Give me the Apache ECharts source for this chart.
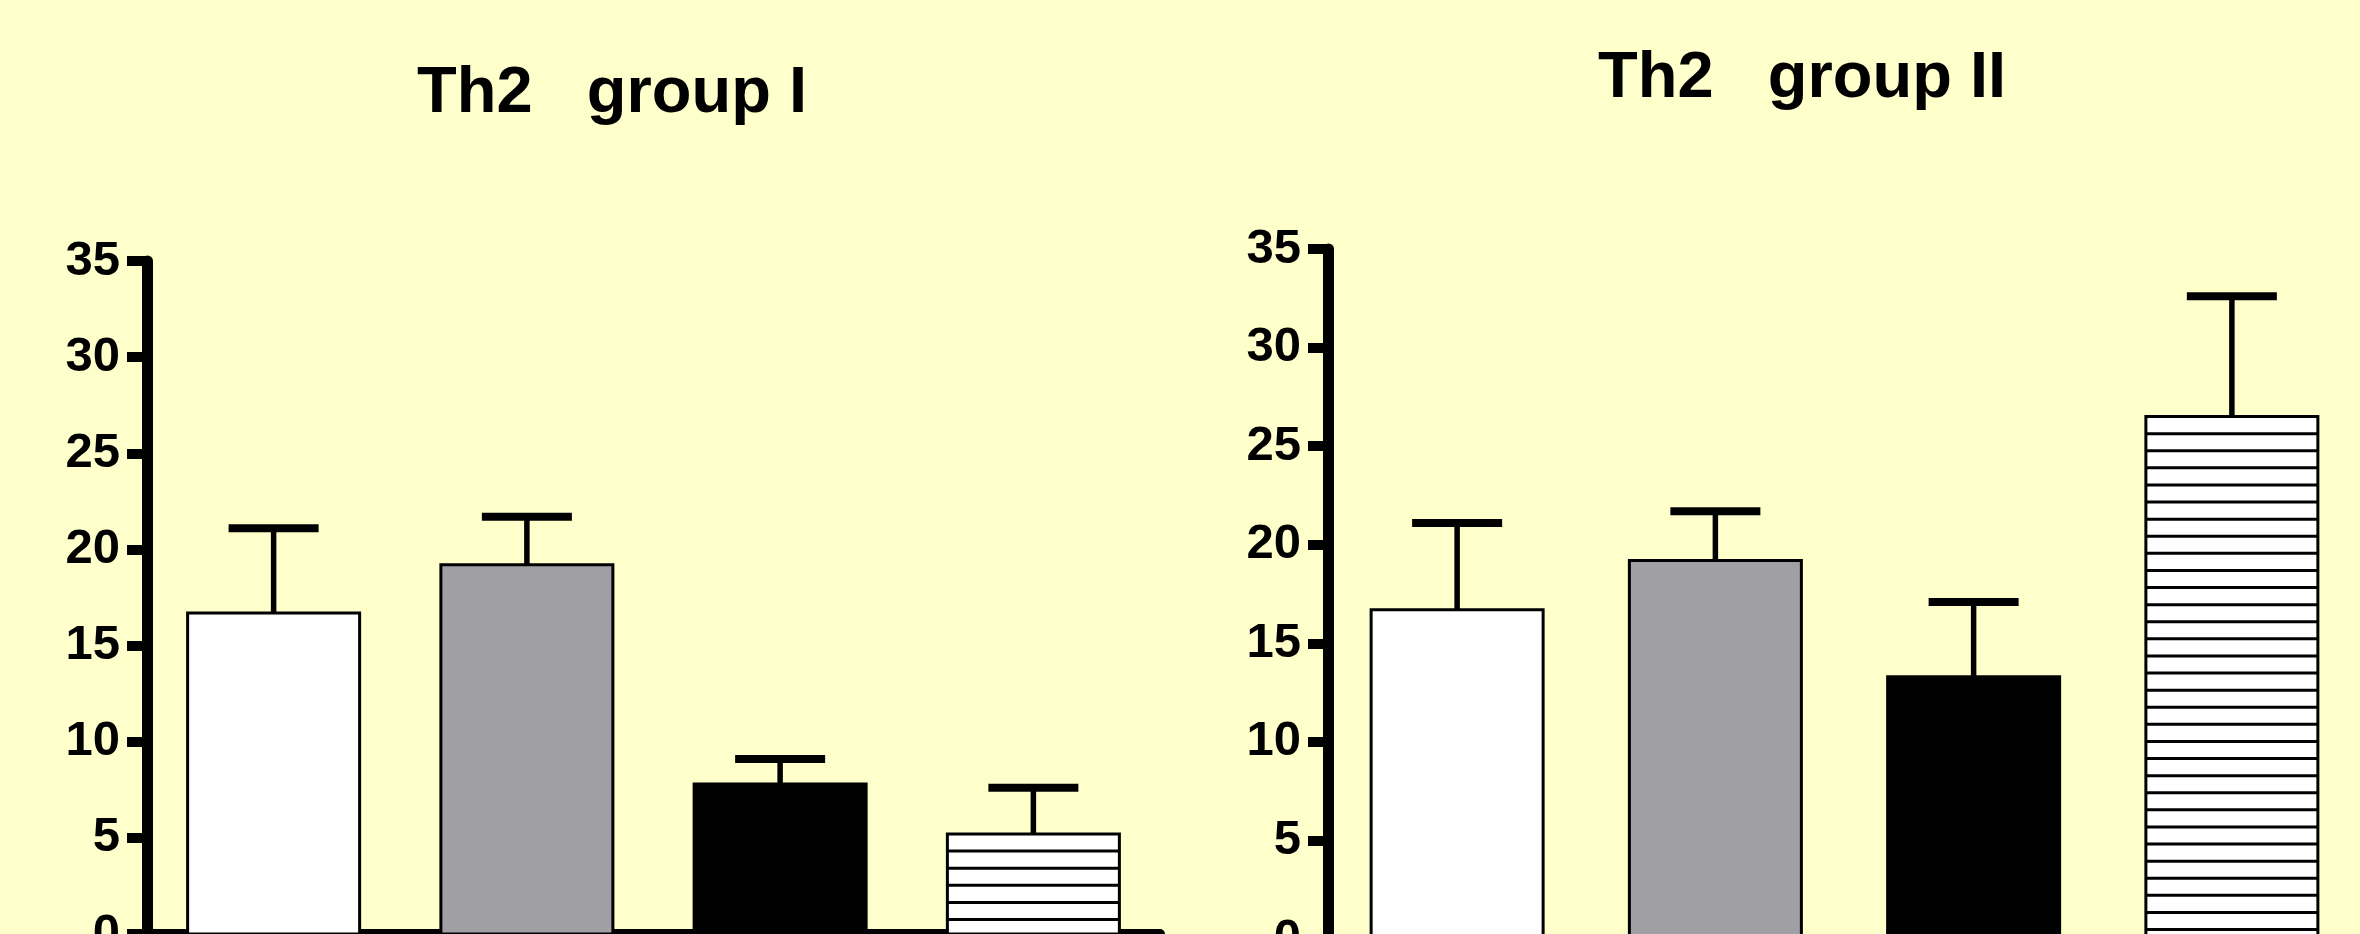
<!DOCTYPE html>
<html>
<head>
<meta charset="utf-8">
<script src="https://cdn.jsdelivr.net/npm/echarts@6/dist/echarts.min.js"></script>
<style>
  html, body { margin: 0; padding: 0; background: #FFFFCC; }
  #chart { width: 2360px; height: 934px; }
</style>
</head>
<body>
<div id="chart"></div>
<script>
// Four treatment bars per panel (unlabelled on the axis)
const categories = ['1', '2', '3', '4'];

// Th2 group I: mean and upper error (SEM)
const groupIMean = [16.7, 19.2, 7.8, 5.2];
const groupIErr  = [4.4, 2.5, 1.3, 2.4];

// Th2 group II: mean and upper error (SEM)
const groupIIMean = [16.7, 19.2, 13.3, 26.5];
const groupIIErr  = [4.4, 2.5, 3.8, 6.1];

// Y axis scale
const yMin = 0, yMax = 35, yStep = 5;

const titles = ['Th2   group I', 'Th2   group II'];

// ---- drawing ----
const FILLS = ['#FFFFFF', '#A09FA4', '#000000', 'stripe'];
const BAR_W = 172;
const CAP_W = 90;
const STRIPE_GAP = 17.1;
const FONT = '"Liberation Sans", Arial, Helvetica, sans-serif';

function renderBar(params, api) {
  const i = api.value(0);
  const top = api.coord([i, api.value(1)]);
  const base = api.coord([i, 0]);
  const x = top[0] - BAR_W / 2;
  const h = base[1] - top[1];
  const fill = FILLS[i];
  const children = [{
    type: 'rect',
    shape: { x: x, y: top[1], width: BAR_W, height: h },
    style: { fill: fill === 'stripe' ? '#FFFFFF' : fill, stroke: '#000', lineWidth: 3 }
  }];
  if (fill === 'stripe') {
    for (let y = top[1] + STRIPE_GAP; y < base[1] - 1; y += STRIPE_GAP) {
      children.push({
        type: 'line',
        shape: { x1: x, y1: y, x2: x + BAR_W, y2: y },
        style: { stroke: '#000', lineWidth: 3 }
      });
    }
  }
  return { type: 'group', children: children };
}

function renderErr(params, api) {
  const i = api.value(0);
  const lo = api.coord([i, api.value(1)]);
  const hi = api.coord([i, api.value(2)]);
  return {
    type: 'group',
    children: [
      { type: 'line', shape: { x1: lo[0], y1: lo[1], x2: hi[0], y2: hi[1] },
        style: { stroke: '#000', lineWidth: 5.5 } },
      { type: 'line', shape: { x1: hi[0] - CAP_W / 2, y1: hi[1], x2: hi[0] + CAP_W / 2, y2: hi[1] },
        style: { stroke: '#000', lineWidth: 8 } }
    ]
  };
}

function barData(mean) {
  return mean.map((v, i) => [i, v]);
}
function errData(mean, err) {
  return mean.map((v, i) => [i, v, +(v + err[i]).toFixed(2)]);
}

function xAxisFor(gridIndex) {
  return {
    type: 'category', gridIndex: gridIndex, data: categories,
    axisLine: { show: true, lineStyle: { color: '#000', width: 10 } },
    axisTick: { show: false }, axisLabel: { show: false }, splitLine: { show: false }
  };
}
function yAxisFor(gridIndex) {
  return {
    type: 'value', gridIndex: gridIndex, min: yMin, max: yMax, interval: yStep,
    axisLine: { show: true, lineStyle: { color: '#000', width: 11 } },
    axisTick: { show: true, length: 20, lineStyle: { color: '#000', width: 10 } },
    axisLabel: { color: '#000', fontSize: 49, fontWeight: 'bold', fontFamily: FONT, margin: 27 },
    splitLine: { show: false }
  };
}

const chart = echarts.init(document.getElementById('chart'), null, { renderer: 'canvas' });
chart.setOption({
  backgroundColor: '#FFFFCC',
  animation: false,
  title: [
    { text: titles[0], left: 612, top: 62, textAlign: 'center', padding: 0,
      textStyle: { color: '#000', fontSize: 65, fontWeight: 'bold', fontFamily: FONT } },
    { text: titles[1], left: 1802, top: 47, textAlign: 'center', padding: 0,
      textStyle: { color: '#000', fontSize: 65, fontWeight: 'bold', fontFamily: FONT } }
  ],
  grid: [
    { left: 147, top: 261, width: 1013, height: 673, containLabel: false, outerBoundsMode: 'none' },
    { left: 1328, top: 249, width: 1033, height: 690, containLabel: false, outerBoundsMode: 'none' }
  ],
  xAxis: [xAxisFor(0), xAxisFor(1)],
  yAxis: [yAxisFor(0), yAxisFor(1)],
  series: [
    { type: 'custom', xAxisIndex: 0, yAxisIndex: 0, z: 2, renderItem: renderErr,
      encode: { x: 0, y: [1, 2] }, data: errData(groupIMean, groupIErr) },
    { type: 'custom', xAxisIndex: 0, yAxisIndex: 0, z: 3, renderItem: renderBar,
      encode: { x: 0, y: 1 }, data: barData(groupIMean) },
    { type: 'custom', xAxisIndex: 1, yAxisIndex: 1, z: 2, renderItem: renderErr,
      encode: { x: 0, y: [1, 2] }, data: errData(groupIIMean, groupIIErr) },
    { type: 'custom', xAxisIndex: 1, yAxisIndex: 1, z: 3, renderItem: renderBar,
      encode: { x: 0, y: 1 }, data: barData(groupIIMean) }
  ]
});
</script>
</body>
</html>
